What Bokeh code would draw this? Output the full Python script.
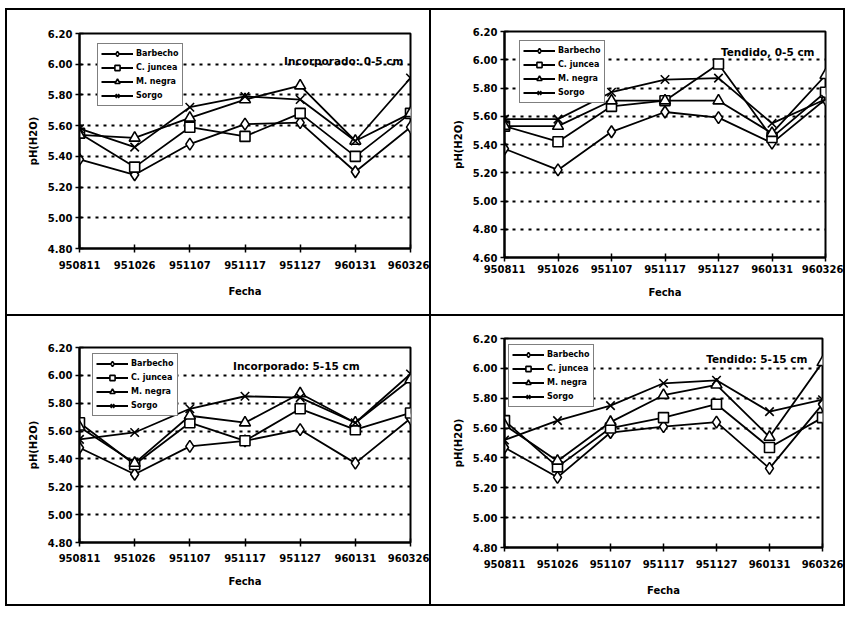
from bokeh.plotting import figure
from bokeh.models import (Legend, LegendItem, Label, FixedTicker, NumeralTickFormatter,
                          ColumnDataSource)
from bokeh.layouts import column, row
from bokeh.embed import file_html
from bokeh.resources import INLINE

# ---------------- data ----------------
dates = ["950811", "951026", "951107", "951117", "951127", "960131", "960326"]
series_names = ["Barbecho", "C. juncea", "M. negra", "Sorgo"]

# Incorporado: 0-5 cm
barbecho_inc05 = [5.38, 5.28, 5.48, 5.61, 5.62, 5.30, 5.59]
juncea_inc05 = [5.55, 5.33, 5.59, 5.53, 5.68, 5.40, 5.68]
negra_inc05 = [5.54, 5.52, 5.65, 5.77, 5.86, 5.50, 5.68]
sorgo_inc05 = [5.58, 5.46, 5.72, 5.79, 5.77, 5.50, 5.91]

# Tendido, 0-5 cm
barbecho_ten05 = [5.37, 5.22, 5.49, 5.63, 5.59, 5.41, 5.72]
juncea_ten05 = [5.53, 5.42, 5.67, 5.71, 5.97, 5.45, 5.77]
negra_ten05 = [5.53, 5.53, 5.71, 5.71, 5.71, 5.48, 5.89]
sorgo_ten05 = [5.58, 5.58, 5.77, 5.86, 5.87, 5.55, 5.72]

# Incorporado: 5-15 cm
barbecho_inc515 = [5.48, 5.29, 5.49, 5.53, 5.61, 5.37, 5.69]
juncea_inc515 = [5.66, 5.36, 5.66, 5.53, 5.76, 5.61, 5.73]
negra_inc515 = [5.63, 5.37, 5.71, 5.66, 5.87, 5.66, 5.97]
sorgo_inc515 = [5.54, 5.59, 5.76, 5.85, 5.84, 5.66, 6.01]

# Tendido: 5-15 cm
barbecho_ten515 = [5.47, 5.27, 5.57, 5.61, 5.64, 5.33, 5.76]
juncea_ten515 = [5.65, 5.34, 5.60, 5.67, 5.76, 5.47, 5.67]
negra_ten515 = [5.62, 5.38, 5.64, 5.82, 5.89, 5.54, 6.04]
sorgo_ten515 = [5.52, 5.65, 5.75, 5.90, 5.92, 5.71, 5.79]

panel_titles = ["Incorporado: 0-5 cm", "Tendido, 0-5 cm",
                "Incorporado: 5-15 cm", "Tendido: 5-15 cm"]
y_ticks_a = [4.80, 5.00, 5.20, 5.40, 5.60, 5.80, 6.00, 6.20]
y_ticks_b = [4.60, 4.80, 5.00, 5.20, 5.40, 5.60, 5.80, 6.00, 6.20]

markers = ["diamond", "square", "triangle", "x"]
marker_sizes = [12, 10, 11, 12]

FONT = "DejaVu Sans"
LEG_H = 64


def make_panel(title, data, yticks, w, h, frame_h, borders, legend_off, label_pos,
               cell_style, xstand=(8, 14)):
    x_idx = list(range(len(dates)))
    p = figure(width=w, height=h, output_backend="svg", toolbar_location=None,
               x_range=(0, len(dates) - 1), y_range=(yticks[0], yticks[-1]),
               min_border_left=borders[0], min_border_right=borders[1],
               min_border_top=borders[2], min_border_bottom=borders[3])
    p.frame_align = False
    p.styles = cell_style
    p.outline_line_color = "black"
    p.outline_line_width = 2
    p.background_fill_color = "white"
    p.border_fill_color = "white"

    # axes
    p.xaxis.ticker = FixedTicker(ticks=x_idx)
    p.xaxis.major_label_overrides = {i: d for i, d in enumerate(dates)}
    p.yaxis.ticker = FixedTicker(ticks=yticks)
    p.yaxis.formatter = NumeralTickFormatter(format="0.00")
    for ax in (p.xaxis[0], p.yaxis[0]):
        ax.axis_line_width = 2
        ax.axis_line_color = "black"
        ax.major_tick_line_color = "black"
        ax.major_tick_line_width = 1.5
        ax.major_tick_in = 4
        ax.major_tick_out = 4
        ax.minor_tick_line_color = None
        ax.major_label_text_font = FONT
        ax.major_label_text_font_style = "bold"
        ax.major_label_text_font_size = "10px"
        ax.major_label_text_color = "black"
        ax.axis_label_text_font = FONT
        ax.axis_label_text_font_style = "bold"
        ax.axis_label_text_font_size = "10px"
        ax.axis_label_text_color = "black"
    p.xaxis.axis_label = "Fecha"
    p.xaxis.major_label_standoff = xstand[0]
    p.xaxis.axis_label_standoff = xstand[1]
    p.yaxis.axis_label = "pH(H2O)"
    p.yaxis.major_label_standoff = 3
    p.yaxis.axis_label_standoff = 6

    p.xgrid.grid_line_color = None
    p.ygrid.grid_line_color = "black"
    p.ygrid.grid_line_width = 1.8
    p.ygrid.grid_line_dash = "3 5"

    items = []
    for name, vals, mk, ms in zip(series_names, data, markers, marker_sizes):
        src = ColumnDataSource(dict(x=x_idx, y=vals))
        ln = p.line("x", "y", source=src, line_color="black", line_width=1.8)
        sc = p.scatter("x", "y", source=src, marker=mk, size=ms, line_color="black",
                       line_width=1.6, fill_color="white")
        items.append(LegendItem(label=name, renderers=[ln, sc]))

    leg = Legend(items=items, location=(legend_off[0], frame_h - legend_off[1] - LEG_H),
                 padding=3, spacing=1, glyph_height=13, glyph_width=32,
                 label_height=13, label_standoff=3, margin=0,
                 label_text_font=FONT, label_text_font_style="bold",
                 label_text_font_size="8px", label_text_color="black",
                 border_line_color="black", border_line_width=1.6,
                 background_fill_color="white", background_fill_alpha=1)
    p.add_layout(leg, "center")

    p.add_layout(Label(x=label_pos[0], y=label_pos[1], text=title,
                       text_align="center", text_baseline="middle",
                       text_font=FONT, text_font_style="bold",
                       text_font_size="10.5px", text_color="black"))
    return p


line = "2px solid black"
# (width, height incl. css border), frame height, min borders L R T B
p1 = make_panel(panel_titles[0], [barbecho_inc05, juncea_inc05, negra_inc05, sorgo_inc05],
                y_ticks_a, 424, 306, 215, (72, 21, 23, 68), (18, 9), (4.79, 6.024),
                {"border-right": line, "border-bottom": line})
p2 = make_panel(panel_titles[1], [barbecho_ten05, juncea_ten05, negra_ten05, sorgo_ten05],
                y_ticks_b, 412, 306, 225, (73, 18, 21, 59), (15, 7), (4.92, 6.058),
                {"border-bottom": line}, xstand=(3, 11))
p3 = make_panel(panel_titles[2], [barbecho_inc515, juncea_inc515, negra_inc515, sorgo_inc515],
                y_ticks_a, 424, 288, 195, (72, 21, 31, 62), (13, 5), (3.93, 6.064),
                {"border-right": line}, xstand=(7, 11))
p4 = make_panel(panel_titles[3], [barbecho_ten515, juncea_ten515, negra_ten515, sorgo_ten515],
                y_ticks_a, 412, 288, 208, (73, 21, 22, 57), (4, 4), (4.76, 6.065),
                {})

page = column(row(p1, p2, spacing=0), row(p3, p4, spacing=0), spacing=0,
              styles={"border": line, "margin-left": "5px", "margin-top": "8px"})

open("out.html", "w").write(file_html(page, INLINE))
